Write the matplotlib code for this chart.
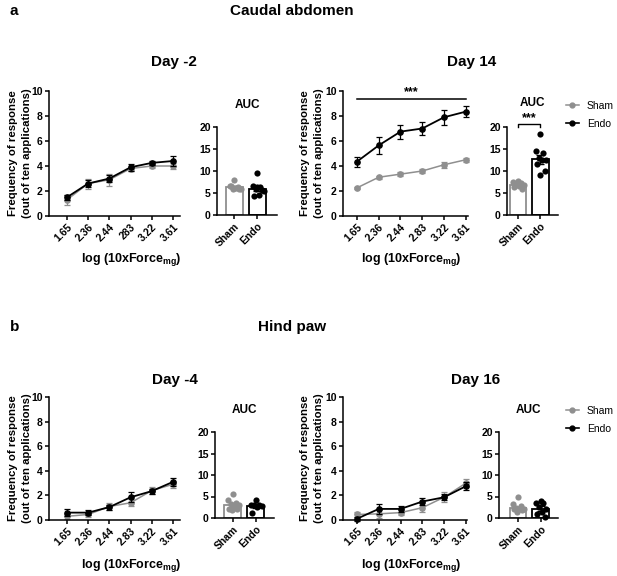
import matplotlib
matplotlib.use("Agg")
import matplotlib.pyplot as plt
from matplotlib.lines import Line2D
import numpy as np

plt.rcParams["font.family"] = ["Liberation Sans", "DejaVu Sans"]
plt.rcParams["font.weight"] = "bold"
plt.rcParams["axes.labelweight"] = "bold"
plt.rcParams["mathtext.fontset"] = "custom"
plt.rcParams["mathtext.rm"] = "Liberation Sans:bold"
plt.rcParams["mathtext.bf"] = "Liberation Sans:bold"

GRAY = "#8f8f8f"
BLACK = "#000000"

# ---- data ----
force_ticks_day_m2 = ["1.65", "2.36", "2.44", "283", "3.22", "3.61"]
force_ticks = ["1.65", "2.36", "2.44", "2.83", "3.22", "3.61"]
groups = ["Sham", "Endo"]

# caudal abdomen, day -2
abd_m2_sham = [1.3, 2.6, 2.9, 3.8, 4.0, 4.0]
abd_m2_sham_err = [0.4, 0.4, 0.5, 0.2, 0.15, 0.25]
abd_m2_endo = [1.5, 2.6, 3.0, 3.9, 4.25, 4.4]
abd_m2_endo_err = [0.2, 0.3, 0.3, 0.3, 0.15, 0.4]
abd_m2_auc_sham = [8.0, 6.6, 6.3, 6.0, 6.0, 6.1, 6.5, 5.8, 6.2]
abd_m2_auc_endo = [9.5, 6.5, 6.4, 6.0, 5.5, 4.5, 4.4, 5.6, 6.3]
abd_m2_auc_mean = [6.4, 6.0]
abd_m2_auc_sem = [0.25, 0.5]

# caudal abdomen, day 14
abd_14_sham = [2.25, 3.1, 3.35, 3.6, 4.1, 4.5]
abd_14_sham_err = [0.1, 0.1, 0.15, 0.15, 0.25, 0.15]
abd_14_endo = [4.35, 5.65, 6.75, 7.0, 7.9, 8.35]
abd_14_endo_err = [0.4, 0.7, 0.55, 0.5, 0.6, 0.45]
abd_14_auc_sham = [7.7, 7.4, 7.2, 7.0, 6.8, 6.5, 6.3, 6.0, 7.0]
abd_14_auc_endo = [18.5, 14.5, 14.2, 13.0, 12.5, 12.6, 11.5, 10.0, 9.0]
abd_14_auc_mean = [6.8, 12.7]
abd_14_auc_sem = [0.2, 1.0]

# hind paw, day -4
paw_m4_sham = [0.3, 0.45, 1.1, 1.4, 2.4, 2.9]
paw_m4_sham_err = [0.2, 0.2, 0.3, 0.3, 0.3, 0.3]
paw_m4_endo = [0.6, 0.6, 1.05, 1.85, 2.35, 3.1]
paw_m4_endo_err = [0.3, 0.2, 0.2, 0.4, 0.2, 0.3]
paw_m4_auc_sham = [5.5, 4.3, 3.5, 3.2, 3.0, 2.5, 2.2, 2.0, 1.8]
paw_m4_auc_endo = [4.2, 3.0, 3.0, 3.0, 2.8, 2.5, 1.2]
paw_m4_auc_mean = [3.0, 2.8]
paw_m4_auc_sem = [0.4, 0.4]

# hind paw, day 16
paw_16_sham = [0.45, 0.5, 0.6, 1.0, 1.85, 3.0]
paw_16_sham_err = [0.2, 0.3, 0.2, 0.35, 0.4, 0.35]
paw_16_endo = [0.1, 0.9, 0.9, 1.5, 1.85, 2.75]
paw_16_endo_err = [0.15, 0.4, 0.25, 0.25, 0.25, 0.3]
paw_16_auc_sham = [5.0, 3.3, 2.8, 2.3, 2.2, 2.0, 2.0, 1.8, 1.5]
paw_16_auc_endo = [4.0, 3.5, 3.5, 2.5, 2.0, 1.5, 1.0, 0.2]
paw_16_auc_mean = [2.3, 2.2]
paw_16_auc_sem = [0.35, 0.5]

W, H = 617, 576
fig = plt.figure(figsize=(W / 100, H / 100), dpi=100)


def px_axes(left, top, right, bottom):
    return fig.add_axes([left / W, 1 - bottom / H, (right - left) / W, (bottom - top) / H])


def style(ax):
    for side in ("top", "right"):
        ax.spines[side].set_visible(False)
    for side in ("left", "bottom"):
        ax.spines[side].set_linewidth(1.1)
    ax.tick_params(direction="out", length=3, width=1.1, labelsize=7.5, pad=1.5)


def draw_curve(ax, sham, sham_err, endo, endo_err, labels, xlim):
    x = np.arange(len(labels))
    ax.errorbar(x, sham, yerr=sham_err, color=GRAY, marker="o", ms=3.8,
                lw=1.1, capsize=2, elinewidth=0.9, capthick=0.9, zorder=2, clip_on=False)
    ax.errorbar(x, endo, yerr=endo_err, color=BLACK, marker="o", ms=3.8,
                lw=1.3, capsize=2, elinewidth=0.9, capthick=0.9, zorder=3, clip_on=False)
    ax.set_xlim(*xlim)
    ax.set_ylim(0, 10)
    ax.set_yticks(range(0, 11, 2))
    ax.set_xticks(x)
    ax.set_xticklabels(labels, rotation=45, ha="right", rotation_mode="anchor", fontsize=7)
    style(ax)


def draw_auc(ax, sham_pts, endo_pts, means, sems, xlim, title_pad=14):
    pos = np.arange(2)
    colors = [GRAY, BLACK]
    ax.bar(pos, means, width=0.74, color="white", edgecolor=colors, linewidth=1.3, zorder=1)
    for i, pts in enumerate([sham_pts, endo_pts]):
        n = len(pts)
        # spread the dots across the bar (low-discrepancy layout)
        offs = ((np.arange(n) * 0.618 + 0.5) % 1 - 0.5) * 0.56
        ax.scatter(pos[i] + offs, pts, s=20, color=colors[i], zorder=3, clip_on=False,
                   linewidths=0)
        ax.errorbar(pos[i], means[i], yerr=sems[i], color=colors[i], capsize=3,
                    elinewidth=1.0, capthick=1.0, zorder=4)
    ax.set_xlim(*xlim)
    ax.set_ylim(0, 20)
    ax.set_yticks(range(0, 21, 5))
    ax.set_xticks(pos)
    ax.set_xticklabels(groups, rotation=45, ha="right", rotation_mode="anchor", fontsize=7.5)
    ax.set_title("AUC", fontsize=8.5, fontweight="bold", pad=title_pad)
    style(ax)


# ---- panel a: caudal abdomen ----
ax1 = px_axes(49, 91, 180, 216)
draw_curve(ax1, abd_m2_sham, abd_m2_sham_err, abd_m2_endo, abd_m2_endo_err,
           force_ticks_day_m2, (-0.85, 5.33))
ax2 = px_axes(217, 127, 277, 215)
draw_auc(ax2, abd_m2_auc_sham, abd_m2_auc_endo, abd_m2_auc_mean, abd_m2_auc_sem, (-0.76, 1.85))

ax3 = px_axes(343, 91, 468, 216)
draw_curve(ax3, abd_14_sham, abd_14_sham_err, abd_14_endo, abd_14_endo_err,
           force_ticks, (-0.64, 5.1))
ax3.plot([0, 5], [9.35, 9.35], color=BLACK, lw=1.1, clip_on=False)
ax3.text(2.5, 9.45, "***", ha="center", va="bottom", fontsize=9)
ax4 = px_axes(507, 127, 558, 215)
draw_auc(ax4, abd_14_auc_sham, abd_14_auc_endo, abd_14_auc_mean, abd_14_auc_sem,
         (-0.49, 1.78), title_pad=15)
ax4.plot([0, 0, 1, 1], [20.0, 20.7, 20.7, 20.0], color=BLACK, lw=1.0, clip_on=False)
ax4.text(0.5, 20.6, "***", ha="center", va="bottom", fontsize=9)

# ---- panel b: hind paw ----
ax5 = px_axes(49, 397, 180, 520)
draw_curve(ax5, paw_m4_sham, paw_m4_sham_err, paw_m4_endo, paw_m4_endo_err,
           force_ticks, (-0.85, 5.33))
ax6 = px_axes(215, 432, 274, 518)
draw_auc(ax6, paw_m4_auc_sham, paw_m4_auc_endo, paw_m4_auc_mean, paw_m4_auc_sem, (-0.76, 1.78))

ax7 = px_axes(343, 397, 467, 520)
draw_curve(ax7, paw_16_sham, paw_16_sham_err, paw_16_endo, paw_16_endo_err,
           force_ticks, (-0.64, 5.05))
ax8 = px_axes(499, 432, 558, 518)
draw_auc(ax8, paw_16_auc_sham, paw_16_auc_endo, paw_16_auc_mean, paw_16_auc_sem, (-0.85, 1.78))


# ---- texts ----
def ftext(x, y, s, **kw):
    return fig.text(x / W, 1 - y / H, s, **kw)


ftext(10, 11, "a", fontsize=11, fontweight="bold", va="center")
ftext(292, 11, "Caudal abdomen", fontsize=11, fontweight="bold", ha="center", va="center")
ftext(10, 327, "b", fontsize=11, fontweight="bold", va="center")
ftext(292, 327, "Hind paw", fontsize=11, fontweight="bold", ha="center", va="center")

ftext(174, 62, "Day -2", fontsize=11, fontweight="bold", ha="center", va="center")
ftext(472, 62, "Day 14", fontsize=11, fontweight="bold", ha="center", va="center")
ftext(175, 380, "Day -4", fontsize=11, fontweight="bold", ha="center", va="center")
ftext(476, 380, "Day 16", fontsize=11, fontweight="bold", ha="center", va="center")

ylab = "Frequency of response\n(out of ten applications)"
xlab = r"log (10xForce$_{\mathbf{mg}}$)"
for xl, yc in [(20, 153), (312, 153), (20, 458), (312, 458)]:
    ftext(xl, yc, ylab, fontsize=8.2, fontweight="bold", rotation=90,
          ha="center", va="center", linespacing=1.5)
for xc, yc in [(131, 260), (411, 260), (131, 565), (411, 565)]:
    ftext(xc, yc, xlab, fontsize=9, fontweight="bold", ha="center", va="center")

handles = [
    Line2D([], [], color=GRAY, marker="o", ms=3.5, lw=1.1),
    Line2D([], [], color=BLACK, marker="o", ms=3.5, lw=1.2),
]
for ytop in (101, 406):
    fig.legend(handles, groups, loc="upper left", bbox_to_anchor=(566 / W, 1 - ytop / H),
               frameon=False, prop={"size": 7.5, "weight": "normal"}, handlelength=1.2,
               handletextpad=0.8, labelspacing=0.75, borderaxespad=0, borderpad=0)

fig.savefig("out.png", dpi=100)
